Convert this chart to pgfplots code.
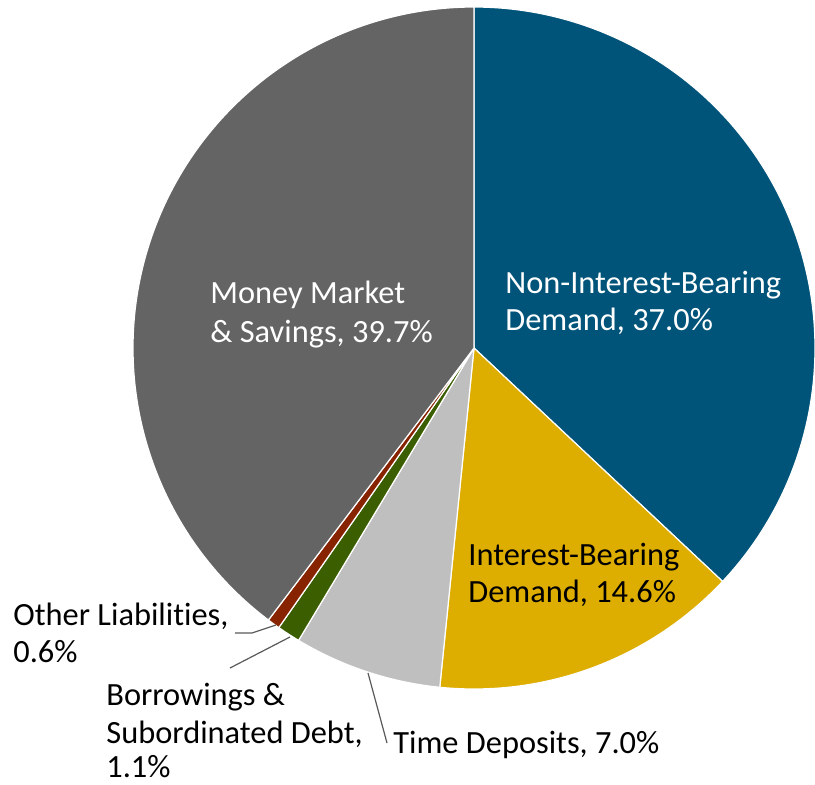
\documentclass[border=0pt]{standalone}
\usepackage{pgfplots}
\pgfplotsset{compat=1.18}
\usepackage{fontspec}
\setmainfont[Ligatures={NoCommon}]{Carlito}

\definecolor{cNIB}{HTML}{00547A}
\definecolor{cIB}{HTML}{DDAD00}
\definecolor{cTD}{HTML}{BFBFBF}
\definecolor{cBOR}{HTML}{3B5E00}
\definecolor{cOTH}{HTML}{882300}
\definecolor{cMM}{HTML}{646464}
\definecolor{cLead}{HTML}{595959}

% shares in percent, clockwise from 12 o'clock
\def\vNIB{37.0}
\def\vIB{14.6}
\def\vTD{7.0}
\def\vBOR{1.1}
\def\vOTH{0.6}
\def\vMM{39.7}

% slice boundary angles (degrees, maths convention)
\pgfmathsetmacro\aA{90}
\pgfmathsetmacro\aB{\aA-3.6*\vNIB}
\pgfmathsetmacro\aC{\aB-3.6*\vIB}
\pgfmathsetmacro\aD{\aC-3.6*\vTD}
\pgfmathsetmacro\aE{\aD-3.6*\vBOR}
\pgfmathsetmacro\aF{\aE-3.6*\vOTH}
\pgfmathsetmacro\aG{\aF-3.6*\vMM}

\def\cx{474}
\def\cy{436}
\def\rr{341}

\begin{document}
\begin{tikzpicture}
\begin{axis}[
    scale only axis,
    width=407.5pt, height=392pt,
    xmin=0, xmax=815, ymin=0, ymax=784,
    hide axis, clip=false,
    every axis plot/.append style={draw=white, line width=0.6pt, samples=80, smooth},
  ]
  \addplot[fill=cNIB, domain=\aB:\aA] ({\cx+\rr*cos(x)},{\cy+\rr*sin(x)}) -- (axis cs:\cx,\cy) -- cycle;
  \addplot[fill=cIB,  domain=\aC:\aB] ({\cx+\rr*cos(x)},{\cy+\rr*sin(x)}) -- (axis cs:\cx,\cy) -- cycle;
  \addplot[fill=cTD,  domain=\aD:\aC] ({\cx+\rr*cos(x)},{\cy+\rr*sin(x)}) -- (axis cs:\cx,\cy) -- cycle;
  \addplot[fill=cBOR, domain=\aE:\aD, samples=10] ({\cx+\rr*cos(x)},{\cy+\rr*sin(x)}) -- (axis cs:\cx,\cy) -- cycle;
  \addplot[fill=cOTH, domain=\aF:\aE, samples=10] ({\cx+\rr*cos(x)},{\cy+\rr*sin(x)}) -- (axis cs:\cx,\cy) -- cycle;
  \addplot[fill=cMM,  domain=\aG:\aF] ({\cx+\rr*cos(x)},{\cy+\rr*sin(x)}) -- (axis cs:\cx,\cy) -- cycle;

  % leader lines
  \draw[cLead, line width=0.6pt] (axis cs:276,159) -- (axis cs:252,151) -- (axis cs:235,151);
  \draw[cLead, line width=0.6pt] (axis cs:290,147) -- (axis cs:230,116);
  \draw[cLead, line width=0.6pt] (axis cs:368,111) -- (axis cs:387,41);

  \begin{scope}[every node/.style={font=\fontsize{16.2}{19}\selectfont, inner sep=0pt, anchor=base west, align=left}]
    \node[text=white] at (axis cs:505,491) {Non-Interest-Bearing};
    \node[text=white] at (axis cs:505,454) {Demand, 37.0\%};
    \node[text=white] at (axis cs:210,481) {Money Market};
    \node[text=white] at (axis cs:210,442) {\& Savings, 39.7\%};
    \node at (axis cs:468,219) {Interest-Bearing};
    \node at (axis cs:468,182) {Demand, 14.6\%};
    \node at (axis cs:393,31) {Time Deposits, 7.0\%};
    \node at (axis cs:13,159) {Other Liabilities,};
    \node at (axis cs:13,122) {0.6\%};
    \node at (axis cs:106,79) {Borrowings \&};
    \node at (axis cs:106,41) {Subordinated Debt,};
    \node at (axis cs:106,7) {1.1\%};
  \end{scope}
\end{axis}
\pgfresetboundingbox
\path (current axis.south west) rectangle (current axis.north east);
\end{tikzpicture}
\end{document}
